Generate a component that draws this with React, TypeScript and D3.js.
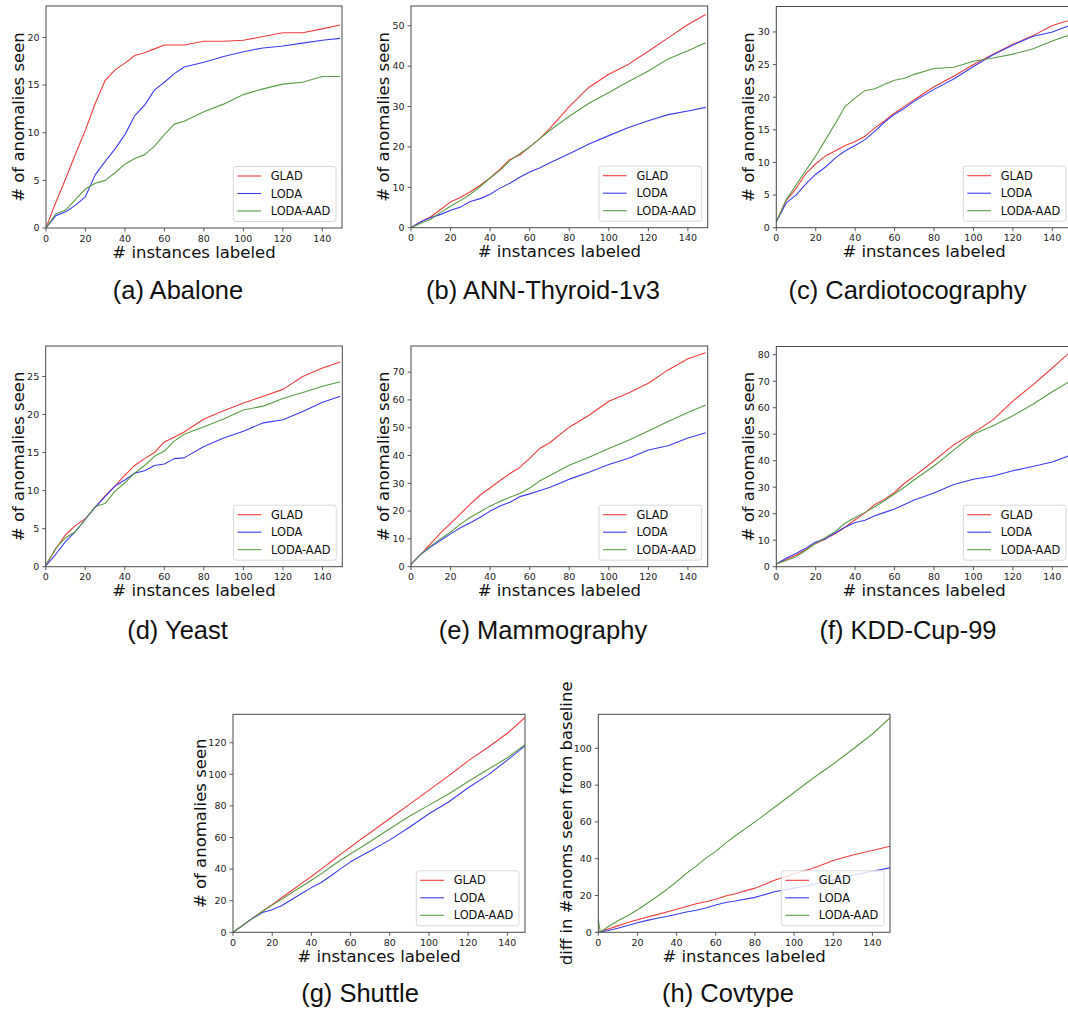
import React from "react";
import * as d3 from "d3";

// Series shown in every panel
const SERIES_NAMES = ["GLAD", "LODA", "LODA-AAD"];
const SERIES_COLORS = ["#f03c3c", "#3c3cf4", "#5c9c48"];

// Number of instances labeled at which each curve is sampled
const X_STEPS = [0, 5, 10, 15, 20, 25, 30, 35, 40, 45, 50, 55, 60, 65, 70, 80, 90, 100, 110, 120, 130, 140, 149];
const X_STEPS_COVTYPE = [0, 1, 5, 10, 15, 20, 25, 30, 35, 40, 45, 50, 55, 60, 65, 70, 80, 90, 100, 110, 120, 130, 140, 149];
const X_TICKS = [0, 20, 40, 60, 80, 100, 120, 140];

// (a) Abalone
const ABALONE_GLAD = [0, 2.7, 5.2, 7.8, 10.3, 13.1, 15.5, 16.6, 17.3, 18.1, 18.4, 18.8, 19.2, 19.2, 19.2, 19.6, 19.6, 19.7, 20.1, 20.5, 20.5, 20.9, 21.3];
const ABALONE_LODA = [0, 1.3, 1.7, 2.4, 3.3, 5.6, 7.0, 8.3, 9.8, 11.8, 12.9, 14.5, 15.3, 16.2, 16.9, 17.4, 18.0, 18.5, 18.9, 19.1, 19.4, 19.7, 19.9];
const ABALONE_AAD = [0, 1.5, 1.9, 3.0, 4.1, 4.7, 5.0, 5.8, 6.7, 7.3, 7.7, 8.6, 9.8, 10.9, 11.2, 12.2, 13.0, 14.0, 14.6, 15.1, 15.3, 15.9, 15.9];

// (b) ANN-Thyroid-1v3
const THYROID_GLAD = [0, 1.5, 2.7, 4.5, 6.4, 7.5, 8.9, 10.5, 12.3, 14.5, 16.9, 18.0, 20.0, 22.0, 24.5, 30.0, 34.8, 38.0, 40.5, 43.7, 47.0, 50.3, 52.8];
const THYROID_LODA = [0, 1.5, 2.5, 3.3, 4.3, 5.1, 6.5, 7.2, 8.3, 9.8, 11.0, 12.5, 13.8, 14.8, 16.0, 18.3, 20.7, 22.8, 24.8, 26.5, 28.0, 28.9, 29.8];
const THYROID_AAD = [0, 1.1, 2.1, 3.8, 5.3, 6.7, 8.3, 10.2, 12.3, 14.2, 16.6, 18.3, 20.0, 22.0, 24.0, 27.6, 30.8, 33.5, 36.2, 38.8, 41.8, 43.8, 45.8];

// (c) Cardiotocography
const CARDIO_GLAD = [0.9, 4.2, 6.0, 8.3, 9.8, 11.0, 11.8, 12.6, 13.2, 14.0, 15.3, 16.4, 17.6, 18.6, 19.6, 21.6, 23.2, 25.0, 26.6, 28.1, 29.4, 31.0, 31.8];
const CARDIO_LODA = [0.9, 3.8, 5.0, 6.7, 8.2, 9.3, 10.7, 11.8, 12.6, 13.5, 14.8, 16.2, 17.4, 18.3, 19.4, 21.2, 22.8, 24.7, 26.5, 28.0, 29.3, 30.0, 31.0];
const CARDIO_AAD = [0.9, 4.3, 6.5, 8.8, 11.0, 13.5, 16.0, 18.6, 19.9, 21.0, 21.3, 22.0, 22.6, 22.9, 23.5, 24.4, 24.6, 25.5, 26.0, 26.6, 27.4, 28.6, 29.6];

// (d) Yeast
const YEAST_GLAD = [0.2, 2.3, 4.2, 5.4, 6.3, 7.8, 9.3, 10.6, 12.0, 13.3, 14.2, 15.0, 16.4, 17.0, 17.7, 19.4, 20.5, 21.5, 22.4, 23.3, 25.0, 26.1, 26.9];
const YEAST_LODA = [0.1, 1.6, 3.3, 4.6, 6.2, 7.8, 9.2, 10.6, 11.4, 12.3, 12.6, 13.3, 13.5, 14.2, 14.3, 15.8, 16.9, 17.8, 18.9, 19.3, 20.4, 21.6, 22.4];
const YEAST_AAD = [0.2, 2.4, 3.8, 4.6, 6.2, 7.9, 8.3, 9.9, 11.0, 12.3, 13.3, 14.5, 15.2, 16.5, 17.4, 18.4, 19.4, 20.6, 21.1, 22.1, 22.9, 23.7, 24.3];

// (e) Mammography
const MAMMO_GLAD = [0.9, 4.5, 8.3, 12.2, 15.6, 19.0, 22.5, 25.8, 28.3, 31.0, 33.5, 35.7, 39.0, 42.5, 44.5, 50.2, 54.5, 59.5, 62.5, 66.0, 70.8, 74.8, 77.0];
const MAMMO_LODA = [0.9, 4.5, 7.2, 9.5, 11.8, 14.0, 15.8, 17.8, 20.0, 21.8, 23.2, 25.2, 26.2, 27.3, 28.5, 31.5, 34.0, 36.8, 39.0, 42.0, 43.5, 46.3, 48.2];
const MAMMO_AAD = [0.9, 4.5, 7.5, 10.0, 12.5, 15.3, 17.8, 19.8, 21.8, 23.5, 25.0, 26.3, 28.3, 30.8, 32.7, 36.5, 39.4, 42.5, 45.5, 48.8, 52.2, 55.5, 58.2];

// (f) KDD-Cup-99
const KDD_GLAD = [1.0, 2.7, 4.3, 6.5, 8.8, 10.5, 12.5, 15.0, 17.7, 20.3, 23.5, 25.5, 28.0, 31.5, 34.2, 40.0, 46.0, 50.5, 55.5, 62.5, 68.5, 75.0, 81.0];
const KDD_LODA = [1.0, 3.2, 5.0, 7.0, 9.3, 10.6, 12.8, 15.0, 16.7, 17.5, 19.2, 20.5, 21.8, 23.5, 25.2, 27.8, 31.0, 33.0, 34.2, 36.2, 37.8, 39.5, 42.0];
const KDD_AAD = [1.0, 2.3, 3.7, 6.2, 8.8, 11.0, 13.3, 16.5, 18.6, 20.5, 22.6, 25.0, 27.5, 30.0, 32.8, 38.0, 44.0, 50.0, 53.2, 57.0, 61.2, 66.0, 70.0];

// (g) Shuttle
const SHUTTLE_GLAD = [0, 4.5, 9.0, 13.3, 17.5, 22.0, 26.5, 31.0, 35.3, 40.0, 44.7, 49.5, 54.0, 58.7, 63.0, 72.0, 81.0, 90.0, 99.0, 108.5, 117.0, 126.0, 136.0];
const SHUTTLE_LODA = [0, 4.4, 8.8, 12.5, 14.3, 17.0, 20.8, 24.5, 28.3, 31.5, 35.8, 40.3, 44.6, 48.2, 51.5, 58.5, 66.5, 75.0, 82.5, 91.5, 99.5, 109.0, 118.0];
const SHUTTLE_AAD = [0, 4.5, 8.8, 13.2, 17.2, 21.0, 25.0, 29.0, 33.0, 37.0, 41.5, 45.8, 49.7, 53.5, 57.5, 65.5, 73.5, 80.5, 87.5, 95.5, 103.0, 110.5, 118.8];

// (h) Covtype (difference from baseline)
const COVTYPE_GLAD = [0, 0.3, 1.8, 3.5, 5.3, 6.8, 8.3, 9.6, 11.0, 12.5, 14.0, 15.5, 16.6, 18.0, 19.7, 21.0, 24.0, 28.3, 31.8, 35.0, 39.0, 42.0, 44.5, 46.8];
const COVTYPE_LODA = [0, 0.2, 1.0, 2.2, 3.7, 5.2, 6.5, 7.6, 8.6, 9.8, 11.0, 12.0, 13.2, 14.8, 16.2, 17.0, 19.0, 22.0, 24.0, 26.0, 28.5, 31.0, 33.2, 35.0];
const COVTYPE_AAD = [7.0, 0.2, 3.0, 6.3, 9.0, 12.3, 15.8, 19.5, 23.3, 27.5, 32.0, 36.0, 40.3, 44.0, 48.5, 52.5, 60.0, 68.0, 76.0, 84.0, 91.5, 99.5, 107.8, 116.5];

const ANOMALIES_LABEL = "# of anomalies seen";
const X_LABEL = "# instances labeled";

type Panel = {
  caption: string;
  yLabel: string;
  xs: number[];
  series: number[][];
  yMax: number;
  yStep: number;
  xMax: number;
  left: number;
  top: number;
  right: number;
  bottom: number;
  yLabelGap: number;
  captionX: number;
  captionY: number;
};

const PANELS: Panel[] = [
  { caption: "(a) Abalone", yLabel: ANOMALIES_LABEL, xs: X_STEPS, series: [ABALONE_GLAD, ABALONE_LODA, ABALONE_AAD],
    yMax: 23.3, yStep: 5, xMax: 150, left: 46, top: 6, right: 342, bottom: 228, yLabelGap: 22, captionX: 178, captionY: 299 },
  { caption: "(b) ANN-Thyroid-1v3", yLabel: ANOMALIES_LABEL, xs: X_STEPS, series: [THYROID_GLAD, THYROID_LODA, THYROID_AAD],
    yMax: 54.9, yStep: 10, xMax: 150, left: 411, top: 6, right: 707.7, bottom: 227.7, yLabelGap: 22, captionX: 543, captionY: 299 },
  { caption: "(c) Cardiotocography", yLabel: ANOMALIES_LABEL, xs: X_STEPS, series: [CARDIO_GLAD, CARDIO_LODA, CARDIO_AAD],
    yMax: 33.9, yStep: 5, xMax: 150, left: 776.3, top: 6.5, right: 1072, bottom: 227.7, yLabelGap: 22, captionX: 907.5, captionY: 299 },
  { caption: "(d) Yeast", yLabel: ANOMALIES_LABEL, xs: X_STEPS, series: [YEAST_GLAD, YEAST_LODA, YEAST_AAD],
    yMax: 29, yStep: 5, xMax: 150, left: 45.7, top: 346, right: 342.3, bottom: 566.7, yLabelGap: 22, captionX: 177.5, captionY: 639 },
  { caption: "(e) Mammography", yLabel: ANOMALIES_LABEL, xs: X_STEPS, series: [MAMMO_GLAD, MAMMO_LODA, MAMMO_AAD],
    yMax: 79.4, yStep: 10, xMax: 150, left: 411, top: 346, right: 707.7, bottom: 566.7, yLabelGap: 22, captionX: 543, captionY: 639 },
  { caption: "(f) KDD-Cup-99", yLabel: ANOMALIES_LABEL, xs: X_STEPS, series: [KDD_GLAD, KDD_LODA, KDD_AAD],
    yMax: 83.1, yStep: 10, xMax: 150, left: 776.3, top: 346.5, right: 1072, bottom: 566.7, yLabelGap: 22, captionX: 908, captionY: 639 },
  { caption: "(g) Shuttle", yLabel: ANOMALIES_LABEL, xs: X_STEPS, series: [SHUTTLE_GLAD, SHUTTLE_LODA, SHUTTLE_AAD],
    yMax: 138, yStep: 20, xMax: 149, left: 233, top: 714.3, right: 525, bottom: 932.3, yLabelGap: 27, captionX: 360, captionY: 1002 },
  { caption: "(h) Covtype", yLabel: "diff in #anoms seen from baseline", xs: X_STEPS_COVTYPE, series: [COVTYPE_GLAD, COVTYPE_LODA, COVTYPE_AAD],
    yMax: 118.5, yStep: 20, xMax: 149, left: 598.3, top: 714.3, right: 890, bottom: 932.3, yLabelGap: 26, captionX: 728, captionY: 1002 },
];

const AXIS_FONT = "'DejaVu Sans', sans-serif";
const CAPTION_FONT = "'Liberation Sans', Arial, sans-serif";
const SPINE = "#4a4a4a";

function ChartPanel({ p, idx }: { p: Panel; idx: number }) {
  const x = d3.scaleLinear().domain([0, p.xMax]).range([p.left, p.right]);
  const y = d3.scaleLinear().domain([0, p.yMax]).range([p.bottom, p.top]);
  const yTicks = d3.range(0, p.yMax + 1e-6, p.yStep);
  const line = d3
    .line<number>()
    .x((_, i) => x(p.xs[i]))
    .y((v) => y(v));
  const clipId = `plot-clip-${idx}`;
  const cx = (p.left + p.right) / 2;
  const cy = (p.top + p.bottom) / 2;
  const legendX = p.right - 108.7;
  const legendY = p.bottom - 61.5;

  return (
    <g>
      <defs>
        <clipPath id={clipId}>
          <rect x={p.left} y={p.top} width={p.right - p.left} height={p.bottom - p.top} />
        </clipPath>
      </defs>
      <g clipPath={`url(#${clipId})`}>
        {p.series.map((vals, si) => (
          <path key={si} d={line(vals) ?? ""} fill="none" stroke={SERIES_COLORS[si]} strokeWidth={1.1} strokeLinejoin="round" />
        ))}
      </g>
      <rect x={p.left} y={p.top} width={p.right - p.left} height={p.bottom - p.top} fill="none" stroke={SPINE} strokeWidth={1} />
      {X_TICKS.map((t) => (
        <g key={`x${t}`}>
          <line x1={x(t)} x2={x(t)} y1={p.bottom} y2={p.bottom + 3.5} stroke={SPINE} strokeWidth={0.9} />
          <text x={x(t)} y={p.bottom + 13.5} textAnchor="middle" fontFamily={AXIS_FONT} fontSize={9.5} fill="#222">
            {t}
          </text>
        </g>
      ))}
      {yTicks.map((t) => (
        <g key={`y${t}`}>
          <line x1={p.left - 3.5} x2={p.left} y1={y(t)} y2={y(t)} stroke={SPINE} strokeWidth={0.9} />
          <text x={p.left - 6.5} y={y(t)} dy="0.35em" textAnchor="end" fontFamily={AXIS_FONT} fontSize={9.5} fill="#222">
            {t}
          </text>
        </g>
      ))}
      <text x={cx} y={p.bottom + 29.5} textAnchor="middle" fontFamily={AXIS_FONT} fontSize={16.5} fill="#111">
        {X_LABEL}
      </text>
      <text
        transform={`translate(${p.left - p.yLabelGap},${cy}) rotate(-90)`}
        textAnchor="middle"
        fontFamily={AXIS_FONT}
        fontSize={16.5}
        fill="#111"
      >
        {p.yLabel}
      </text>
      <g transform={`translate(${legendX},${legendY})`}>
        <rect x={0} y={0} width={102.7} height={55} rx={2.5} fill="#fff" fillOpacity={0.8} stroke="#d4d4d4" strokeWidth={0.9} />
        {SERIES_NAMES.map((name, si) => (
          <g key={name} transform={`translate(0,${9.5 + si * 17.5})`}>
            <line x1={4} x2={27.7} y1={0} y2={0} stroke={SERIES_COLORS[si]} strokeWidth={1.1} />
            <text x={37.4} y={0} dy="0.36em" fontFamily={AXIS_FONT} fontSize={11.4} fill="#111">
              {name}
            </text>
          </g>
        ))}
      </g>
      <text x={p.captionX} y={p.captionY} textAnchor="middle" fontFamily={CAPTION_FONT} fontSize={25.5} fill="#111">
        {p.caption}
      </text>
    </g>
  );
}

export default function App() {
  return (
    <svg
      width={1068}
      height={1013}
      viewBox="0 0 1068 1013"
      style={{ position: "absolute", left: 0, top: 0, background: "#fff" }}
    >
      <rect x={0} y={0} width={1068} height={1013} fill="#fff" />
      {PANELS.map((p, i) => (
        <ChartPanel key={p.caption} p={p} idx={i} />
      ))}
    </svg>
  );
}
